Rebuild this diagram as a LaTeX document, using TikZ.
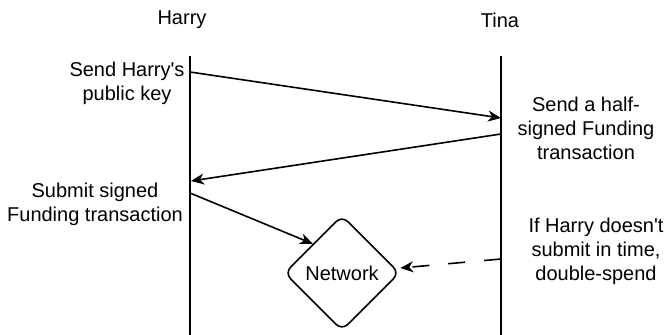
\documentclass[tikz,border=0pt]{standalone}
\usepackage{fontspec}
% keep typed quotes straight
\setmainfont{Liberation Sans}[Ligatures=TeXOff]
\usetikzlibrary{arrows.meta,shapes.geometric,calc}
\begin{document}
\begin{tikzpicture}[x=1pt,y=-1pt,
  lbl/.style={font=\fontsize{20}{24}\selectfont, align=center, inner sep=0pt},
  life/.style={line width=1.6pt},
  msg/.style={line width=1.6pt,-{Stealth[length=13pt,width=11pt,inset=4pt]}},
  dashmsg/.style={msg, dash pattern=on 17pt off 19pt},
  netbox/.style={diamond, draw, line width=1.6pt, rounded corners=8pt,
    minimum width=115pt, minimum height=115pt, inner sep=0pt,
    font=\fontsize{20}{24}\selectfont}]
\useasboundingbox (0,0) rectangle (665,335);

% participants and lifelines
\node[lbl] (harry) at (182,20) {Harry};
\node[lbl] (tina) at (500,20) {Tina};
\coordinate (htop) at (190,56);
\coordinate (hbot) at (190,335);
\coordinate (ttop) at (501,56);
\coordinate (tbot) at (501,335);
\draw[life] (htop) -- (hbot);
\draw[life] (ttop) -- (tbot);

% message attachment points
\coordinate (h1) at (190,72);
\coordinate (t1) at (501,118);
\coordinate (t2) at (501,134);
\coordinate (h2) at (191,181);
\coordinate (h3) at (190,193);
\coordinate (t3) at (501,259);

% network
\node[netbox] (net) at (342,273) {Network};

% messages
\draw[msg] (h1) -- (t1);
\draw[msg] (t2) -- (h2);
\draw[msg] (h3) -- (net.north west);
\draw[dashmsg] (t3) -- ($(net.east)+(0,-5)$);

% step descriptions
\node[lbl] (s1) at (127,83) {Send Harry's\\public key};
\node[lbl] (s2) at (586,128) {Send a half-\\signed Funding\\transaction};
\node[lbl] (s3) at (95,204) {Submit signed\\Funding transaction};
\node[lbl] (s4) at (596,251) {If Harry doesn't\\submit in time,\\double-spend};
\end{tikzpicture}
\end{document}
